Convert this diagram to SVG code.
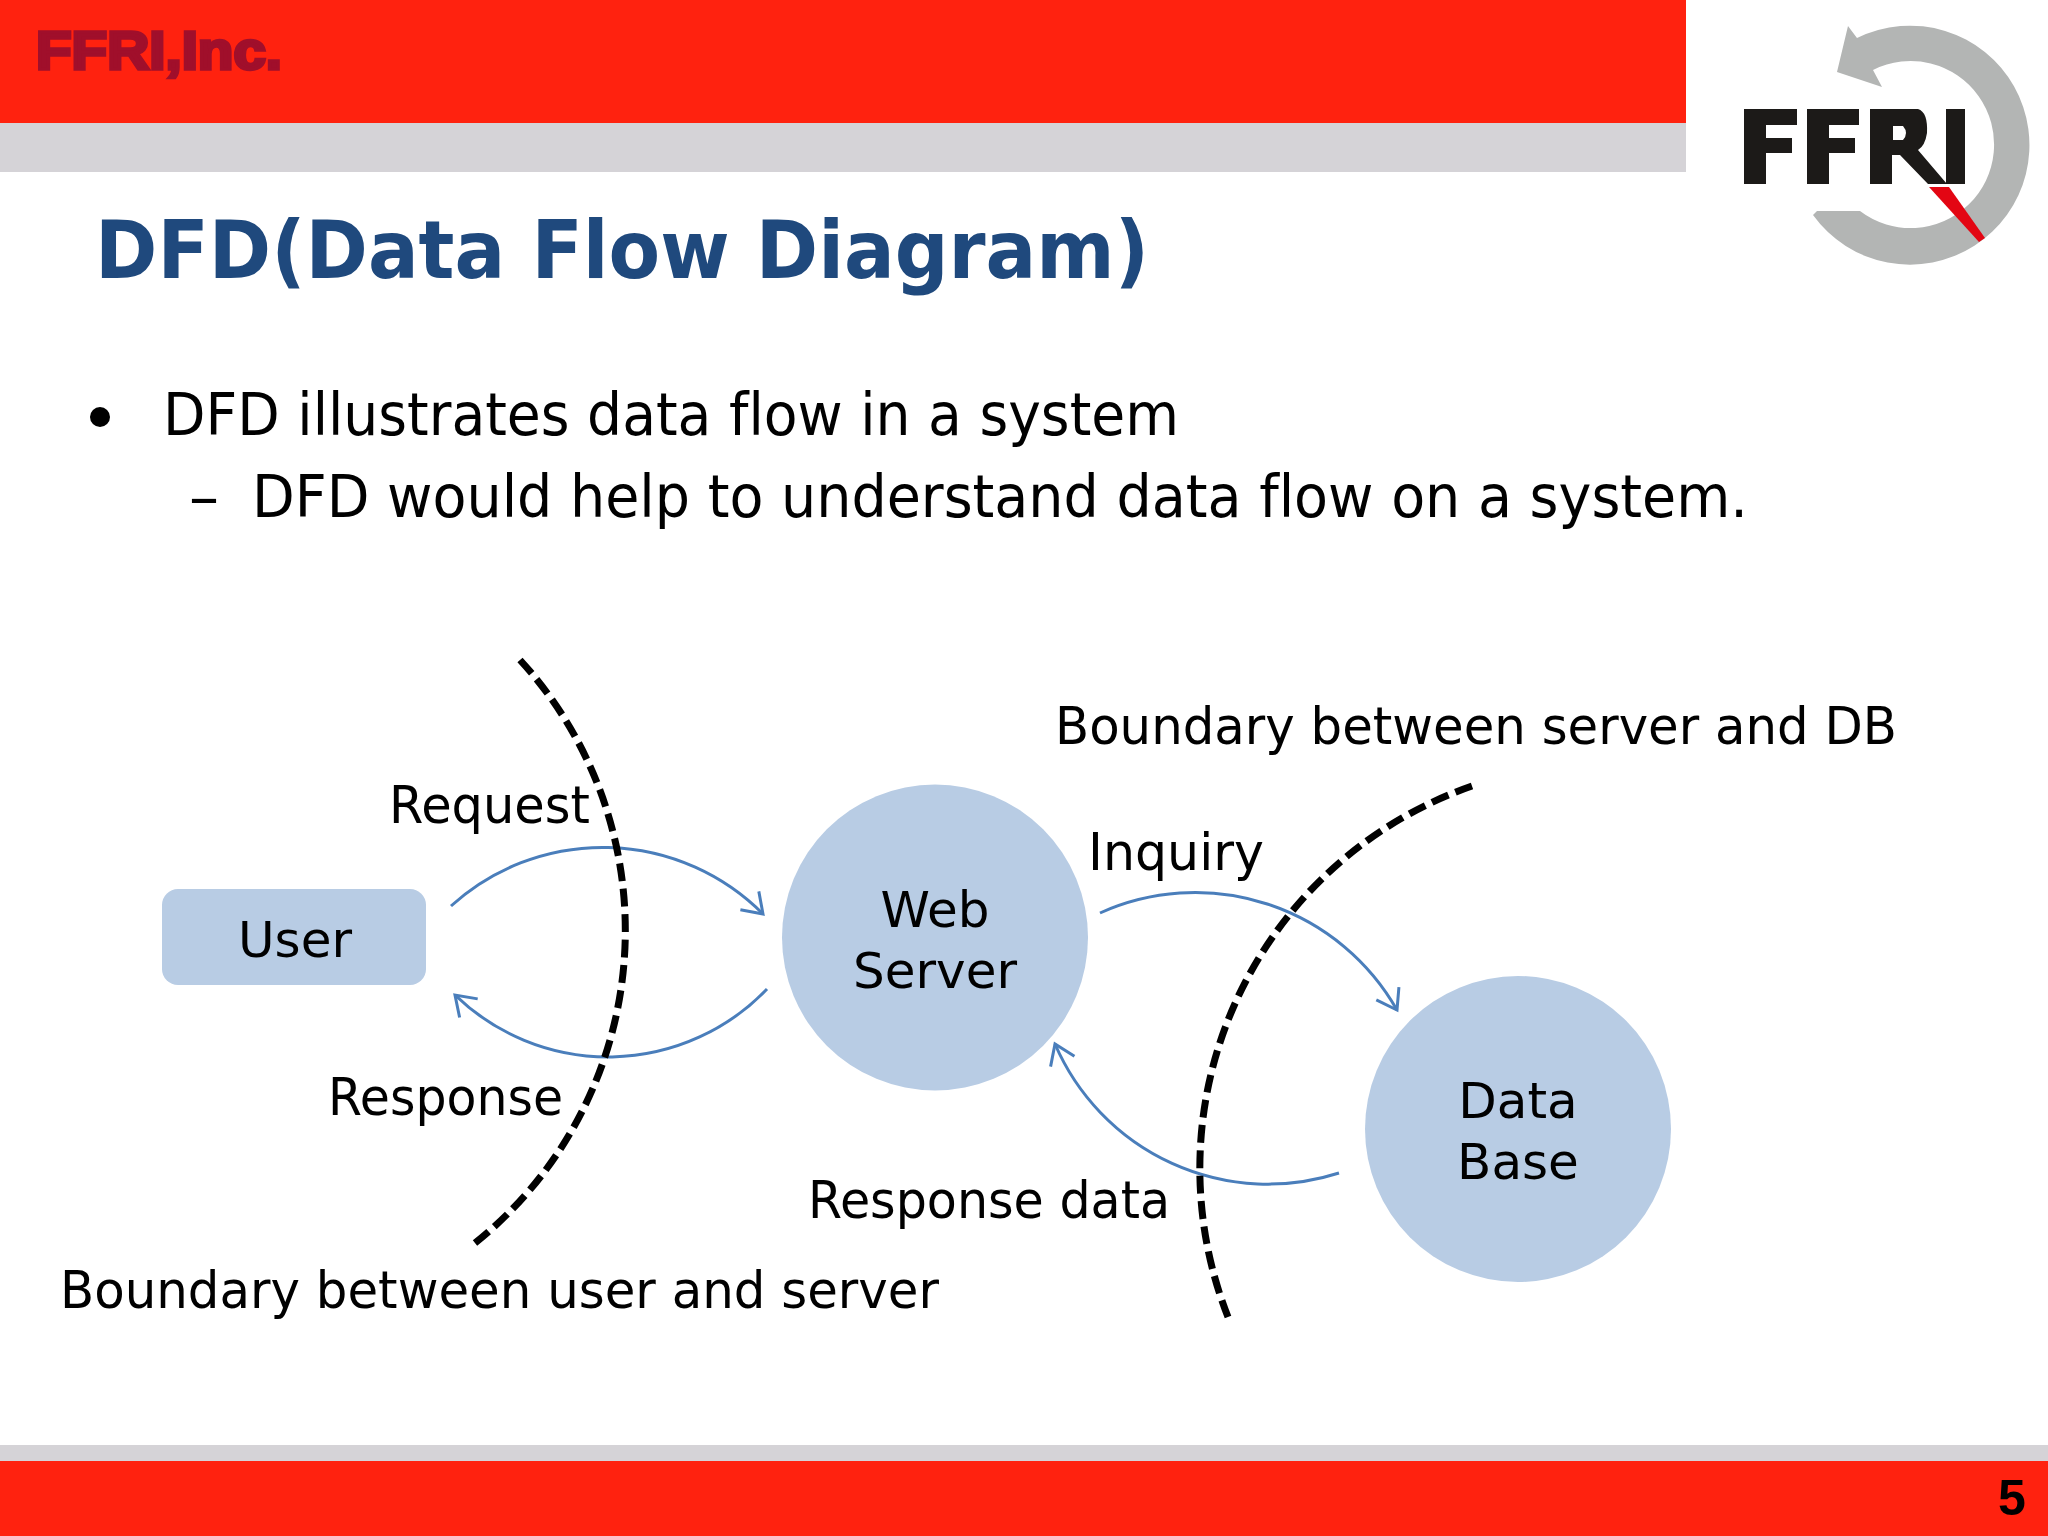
<svg xmlns="http://www.w3.org/2000/svg" width="2048" height="1536" viewBox="0 0 2048 1536">
<style>
text{font-family:"DejaVu Sans","Noto Sans",sans-serif;fill:#000;font-variant-ligatures:none}
.lbl{font-size:52px}
.nt{font-size:50px;text-anchor:middle}
.body{font-size:59px}
.node{fill:#b8cce4}
.flow{fill:none;stroke:#4a7ebb;stroke-width:3;marker-end:url(#open)}
.bound{fill:none;stroke:#000;stroke-width:7;stroke-dasharray:19 8}
</style>
<defs>
<marker id="open" markerUnits="userSpaceOnUse" markerWidth="40" markerHeight="40" refX="30" refY="20" orient="auto" overflow="visible">
<path d="M11,7 L30,20 L11,33" fill="none" stroke="#4a7ebb" stroke-width="3"/>
</marker>
</defs>
<rect width="2048" height="1536" fill="#fff"/>
<g id="header">
<rect x="0" y="0" width="1686" height="123" fill="#ff220f"/>
<rect x="0" y="123" width="1686" height="49" fill="#d5d3d7"/>
<text x="36" y="69" textLength="246" lengthAdjust="spacingAndGlyphs" style="font-family:'Liberation Sans',sans-serif;font-weight:700;font-size:54px;fill:#a00f2b;stroke:#a00f2b;stroke-width:3.5">FFRI,Inc.</text>
</g>
<g id="logo">
<path d="M1857,38 A119.5,119.5 0 1 1 1813,215 L1817,211 L1860,211 A83.5,83.5 0 1 0 1873,70 L1882,87 L1837,72 L1848,26 Z" fill="#b3b5b4"/>
<path d="M1744,109 H1797 V125 H1766 V138 H1792 V153 H1766 V184 H1744 Z" fill="#1c1a18"/>
<path d="M1807,109 H1859 V125 H1829 V138 H1855 V153 H1829 V184 H1807 Z" fill="#1c1a18"/>
<path fill-rule="evenodd" d="M1870,109 H1918 Q1928,112 1927,133 Q1925,146 1918,150 L1947,184 H1928 L1900,155 H1892 V184 H1870 Z M1893,126 V140 H1903 Q1909,133 1903,126 Z" fill="#1c1a18"/>
<rect x="1946" y="109" width="19" height="75" fill="#1c1a18"/>
<polygon points="1929,187 1949,187 1985,238 1979,242" fill="#e30613"/>
</g>
<g id="title">
<text x="95" y="278" textLength="1054" lengthAdjust="spacingAndGlyphs" style="font-size:81px;font-weight:700;fill:#1f497d">DFD(Data Flow Diagram)</text>
</g>
<g id="bullets">
<circle cx="100" cy="417" r="10" fill="#000"/>
<text class="body" x="163" y="435" textLength="1016" lengthAdjust="spacingAndGlyphs">DFD illustrates data flow in a system</text>
<text class="body" x="189" y="517" textLength="30" lengthAdjust="spacingAndGlyphs">–</text>
<text class="body" x="252" y="517" textLength="1496" lengthAdjust="spacingAndGlyphs">DFD would help to understand data flow on a system.</text>
</g>
<g id="connectors">
<path id="flow-request" class="flow" d="M451,906 A226,226 0 0 1 763,914"/>
<path id="flow-response" class="flow" d="M767,989 A220,220 0 0 1 455,995"/>
<path id="flow-inquiry" class="flow" d="M1100,913 A232,232 0 0 1 1397,1010"/>
<path id="flow-response-data" class="flow" d="M1339,1173 A232,232 0 0 1 1055,1044"/>
<path id="boundary-user-server" class="bound" pathLength="694" d="M520,660 A400,400 0 0 1 475,1243"/>
<path id="boundary-server-db" class="bound" pathLength="694" d="M1472,786 A405,405 0 0 0 1228,1317"/>
</g>
<g id="node-user">
<rect class="node" x="162" y="889" width="264" height="96" rx="16"/>
<text class="nt" x="295" y="957">User</text>
</g>
<g id="node-web-server">
<circle class="node" cx="935" cy="937.5" r="153"/>
<text class="nt" x="935" y="927">Web</text>
<text class="nt" x="935" y="988">Server</text>
</g>
<g id="node-database">
<circle class="node" cx="1518" cy="1129" r="153"/>
<text class="nt" x="1518" y="1118">Data</text>
<text class="nt" x="1518" y="1179">Base</text>
</g>
<g id="labels">
<text class="lbl" x="389" y="823" textLength="201" lengthAdjust="spacingAndGlyphs">Request</text>
<text class="lbl" x="328" y="1115" textLength="235" lengthAdjust="spacingAndGlyphs">Response</text>
<text class="lbl" x="1088" y="870" textLength="176" lengthAdjust="spacingAndGlyphs">Inquiry</text>
<text class="lbl" x="808" y="1218" textLength="362" lengthAdjust="spacingAndGlyphs">Response data</text>
<text class="lbl" x="1055" y="744" textLength="842" lengthAdjust="spacingAndGlyphs">Boundary between server and DB</text>
<text class="lbl" x="60" y="1308" textLength="879" lengthAdjust="spacingAndGlyphs">Boundary between user and server</text>
</g>
<g id="footer">
<rect x="0" y="1445" width="2048" height="16" fill="#d5d3d7"/>
<rect x="0" y="1461" width="2048" height="75" fill="#ff220f"/>
<text x="2012" y="1515" text-anchor="middle" style="font-family:'Liberation Sans',sans-serif;font-weight:700;font-size:50px">5</text>
</g>
</svg>
